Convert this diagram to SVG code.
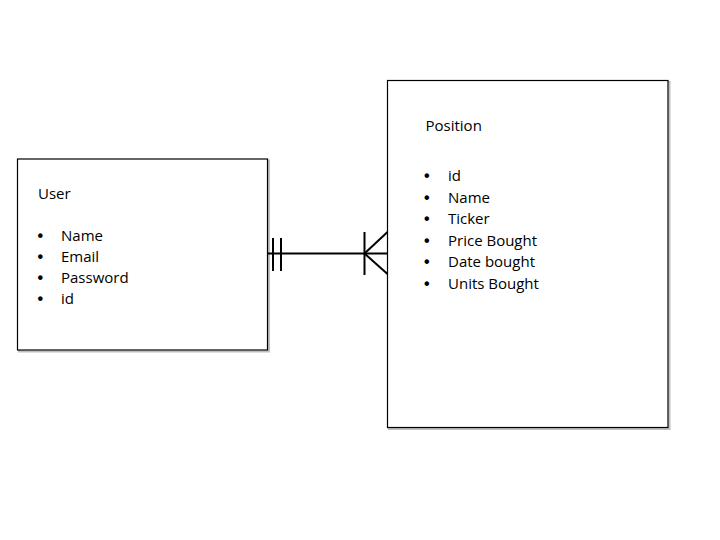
<svg xmlns="http://www.w3.org/2000/svg" width="720" height="540" viewBox="0 0 720 540">
<style>
.box{fill:#ffffff;stroke:#000000;stroke-width:1.2}
.shadow{fill:none;stroke:#000000;stroke-opacity:0.25;stroke-width:2}
.t{font-family:"Open Sans","Liberation Sans",sans-serif;font-size:15px;fill:#000000}
.b{font-family:"Liberation Sans",sans-serif;font-size:16px;font-weight:bold;fill:#000000}
.ln{stroke:#000000;stroke-width:2;fill:none}
</style>
<rect width="720" height="540" fill="#ffffff"/>
<g id="user">
<rect class="shadow" x="19" y="160.5" width="250" height="191"/>
<rect class="box" x="17.5" y="159" width="250" height="191"/>
<text class="t" x="38" y="199">User</text>
<text class="b" x="37.5" y="241">•</text><text class="t" x="61" y="241">Name</text>
<text class="b" x="37.5" y="262">•</text><text class="t" x="61" y="262">Email</text>
<text class="b" x="37.5" y="283">•</text><text class="t" x="61" y="283">Password</text>
<text class="b" x="37.5" y="304">•</text><text class="t" x="61" y="304">id</text>
</g>
<g id="position">
<rect class="shadow" x="389" y="82" width="280.5" height="347"/>
<rect class="box" x="387.5" y="80.5" width="280.5" height="347"/>
<text class="t" x="425.5" y="131">Position</text>
<text class="b" x="424" y="181">•</text><text class="t" x="448" y="181">id</text>
<text class="b" x="424" y="202.5">•</text><text class="t" x="448" y="202.5">Name</text>
<text class="b" x="424" y="224">•</text><text class="t" x="448" y="224">Ticker</text>
<text class="b" x="424" y="245.5">•</text><text class="t" x="448" y="245.5">Price Bought</text>
<text class="b" x="424" y="267">•</text><text class="t" x="448" y="267">Date bought</text>
<text class="b" x="424" y="288.5">•</text><text class="t" x="448" y="288.5">Units Bought</text>
</g>
<g id="connectors">
<line class="ln" x1="268" y1="253.5" x2="387.5" y2="253.5"/>
<line class="ln" x1="273" y1="238" x2="273" y2="271"/>
<line class="ln" x1="281" y1="238" x2="281" y2="271"/>
<line class="ln" x1="364.5" y1="232" x2="364.5" y2="275"/>
<line class="ln" x1="364.5" y1="253.5" x2="387.5" y2="232"/>
<line class="ln" x1="364.5" y1="253.5" x2="387.5" y2="274"/>
</g>
</svg>
